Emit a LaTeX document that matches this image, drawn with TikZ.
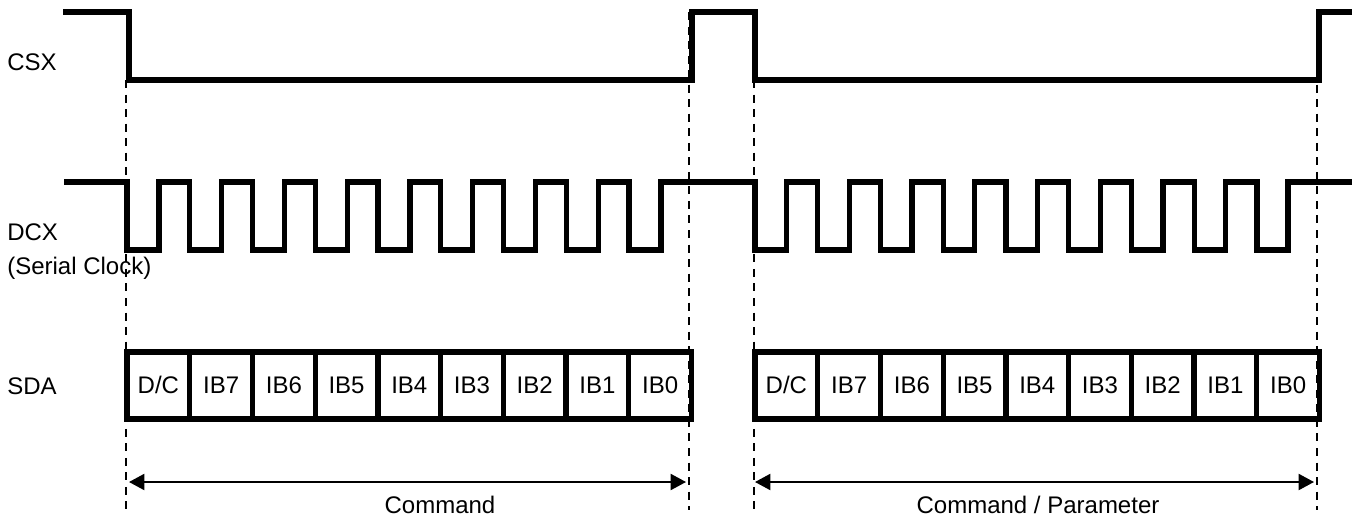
\documentclass[tikz,border=0pt]{standalone}
\usepackage{fontspec}
\setmainfont{Liberation Sans}
\usetikzlibrary{arrows.meta}
\tikzset{
    wave/.style={line width=4pt,line cap=butt,line join=miter},
    guide/.style={line width=1.5pt,dash pattern=on 6pt off 4.9pt},
    span/.style={line width=1.5pt,{Triangle[length=11.5pt,width=12pt]}-{Triangle[length=11.5pt,width=12pt]}},
    cell/.style={draw,line width=4pt,inner sep=0pt,minimum height=50.25pt,text height=12pt,text depth=0pt,font=\fontsize{18}{20}\selectfont},
    label/.style={anchor=west,inner sep=0pt,font=\fontsize{18}{20}\selectfont},
    caption/.style={inner sep=0pt,font=\fontsize{18}{20}\selectfont}
}
\begin{document}
\begin{tikzpicture}[x=0.75pt,y=-0.75pt]
    \useasboundingbox (0,0) rectangle (1357,522);

    \node[label] (csx) at (7,62) {CSX};
    \node[label] (dcx) at (7,232) {DCX};
    \node[label] (sclk) at (7,268) {(Serial Clock)};
    \node[label] (sda) at (7,386) {SDA};

    \draw[wave] (63,12) -- (129,12) -- (129,80) -- (692,80) -- (692,12)
                -- (755,12) -- (755,80) -- (1319,80) -- (1319,12) -- (1352,12);

    \draw[wave] (64,182) -- (127,182) -- (127,250)
        \foreach \k in {0,...,7} {
            -- ({127+62.75*\k+32},250) -- ({127+62.75*\k+32},182)
            -- ({127+62.75*(\k+1)},182) -- ({127+62.75*(\k+1)},250)
        }
        -- (661,250) -- (661,182) -- (755,182) -- (755,250)
        \foreach \k in {0,...,7} {
            -- ({755+62.75*\k+31.5},250) -- ({755+62.75*\k+31.5},182)
            -- ({755+62.75*(\k+1)},182) -- ({755+62.75*(\k+1)},250)
        }
        -- (1288,250) -- (1288,182) -- (1352,182);

    \foreach \name/\lab [count=\i from 0] in {dc/D\slash C,ib7/IB7,ib6/IB6,ib5/IB5,ib4/IB4,ib3/IB3,ib2/IB2,ib1/IB1,ib0/IB0} {
        \node[cell,minimum width=47.06pt] (a\name) at ({158.4+62.72*\i},385.5) {\lab};
        \node[cell,minimum width=47.06pt] (b\name) at ({786.4+62.72*\i},385.5) {\lab};
    }

    \coordinate (g1t) at (126,80);
    \coordinate (g1b) at (126,510);
    \coordinate (g2t) at (689,12);
    \coordinate (g2b) at (689,510);
    \coordinate (g3t) at (754,80);
    \coordinate (g3b) at (754,510);
    \coordinate (g4t) at (1317,12);
    \coordinate (g4b) at (1317,510);
    \foreach \n in {1,...,4}
        \draw[guide] (g\n t) -- (g\n b);

    \coordinate (c1) at (129,482);
    \coordinate (c2) at (686,482);
    \coordinate (c3) at (755,482);
    \coordinate (c4) at (1314,482);
    \draw[span] (c1) -- (c2);
    \draw[span] (c3) -- (c4);

    \node[caption] (cmd) at (440,505) {Command};
    \node[caption] (par) at (1038,505) {Command / Parameter};
\end{tikzpicture}
\end{document}
